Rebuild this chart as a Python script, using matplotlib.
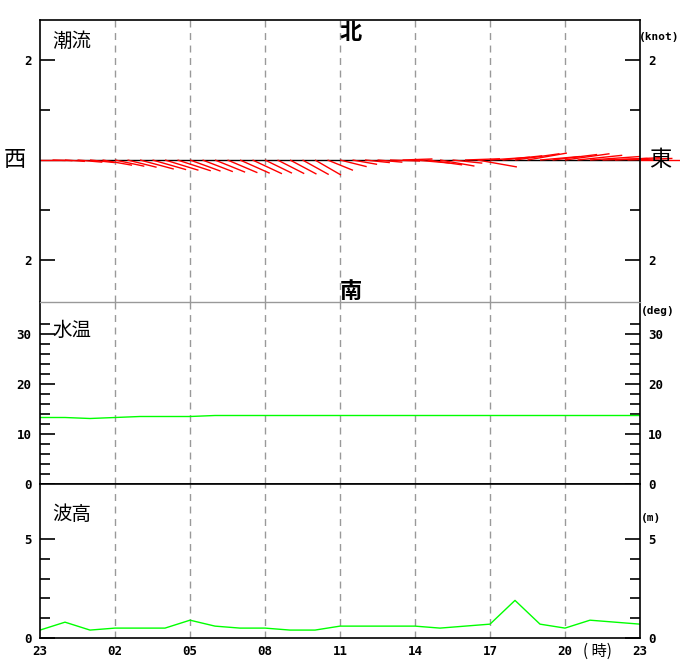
import numpy as np
import matplotlib
matplotlib.use('Agg')
import matplotlib.pyplot as plt
from matplotlib.collections import LineCollection

# 時刻ラベル (23時から翌23時まで)
hour_labels = ['23', '02', '05', '08', '11', '14', '17', '20', '23']

# 潮流 (30分毎): 速さ(knot) と 流向(度, 北=0 東=90)
cur_t = np.arange(0, 24.5, 0.5)
cur_speed = [0.5, 0.4, 0.4, 0.5, 0.5, 0.6, 0.6, 0.6, 0.7, 0.7, 0.7, 0.7, 0.65,
             0.65, 0.65, 0.65, 0.65, 0.65, 0.6, 0.6, 0.6, 0.6, 0.6, 0.55, 0.55,
             0.5, 0.5, 0.5, 0.6, 0.6, 0.7, 0.7, 0.7, 0.6, 0.7, 0.8, 0.8, 0.8,
             0.9, 0.8, 0.8, 0.9, 0.9, 0.9, 1.0, 0.9, 0.9, 0.9, 0.8]
cur_dir = [90, 92, 94, 95, 96, 100, 102, 104, 105, 106, 107, 108, 110, 111,
           112, 113, 114, 115, 116, 117, 118, 119, 120, 112, 104, 100, 96, 95,
           92, 88, 95, 98, 100, 96, 88, 100, 86, 84, 82, 80, 85, 83, 82, 84,
           86, 88, 87, 88, 90]

# 水温 (毎時, deg)
temp_t = np.arange(0, 25)
temp = [13.3, 13.3, 13.1, 13.3, 13.5, 13.5, 13.5, 13.7, 13.7, 13.7, 13.7,
        13.7, 13.7, 13.7, 13.7, 13.7, 13.7, 13.7, 13.7, 13.7, 13.7, 13.7,
        13.7, 13.7, 13.7]

# 波高 (毎時, m)
wave_t = np.arange(0, 25)
wave = [0.4, 0.8, 0.4, 0.5, 0.5, 0.5, 0.9, 0.6, 0.5, 0.5, 0.4, 0.4, 0.6,
        0.6, 0.6, 0.6, 0.5, 0.6, 0.7, 1.9, 0.7, 0.5, 0.9, 0.8, 0.7]

W, H = 680, 660
fig = plt.figure(figsize=(W / 100, H / 100), dpi=100)

def box(x0, y0, x1, y1):
    return [x0 / W, 1 - y1 / H, (x1 - x0) / W, (y1 - y0) / H]

jp = ['Noto Sans CJK JP', 'DejaVu Sans']
mono = dict(family='DejaVu Sans Mono', weight='bold', size=9)
unit = dict(family='DejaVu Sans Mono', weight='bold', size=8)
grid_col = '#999999'

ax1 = fig.add_axes(box(40, 20, 640, 302))
ax2 = fig.add_axes(box(40, 302, 640, 484))
ax3 = fig.add_axes(box(40, 484, 640, 638))

for ax in (ax1, ax2, ax3):
    ax.set_xlim(0, 24)
    for h in range(3, 24, 3):
        ax.axvline(h, color=grid_col, lw=1, ls=(0, (5, 4)), zorder=0)
    ax.tick_params(axis='y', which='major', direction='in', length=10.8,
                   width=1.2, left=True, right=True, labelleft=True,
                   labelright=True, pad=6)
    ax.tick_params(axis='y', which='minor', direction='in', length=7,
                   width=1.2, left=True, right=True)
    ax.tick_params(axis='x', length=0)
    for sp in ax.spines.values():
        sp.set_linewidth(1.2)

# ---- 潮流 ----
ax1.set_ylim(-2.84, 2.8)
ax1.set_xticks([])
ax1.set_yticks([-2, 2])
ax1.set_yticklabels(['2', '2'], **mono)
ax1.set_yticks([-1, 1], minor=True)
ax1.spines['bottom'].set_visible(False)
ax1.axhline(0, color='black', lw=1, zorder=1)

px_hour = 600 / 24
px_knot = 282 / 5.64
spd = np.array(cur_speed)
rad = np.radians(cur_dir)
u = spd * np.sin(rad)
v = spd * np.cos(rad)
segs = [[(t, 0), (t + uu * px_knot / px_hour, vv)] for t, uu, vv in zip(cur_t, u, v)]
lc = LineCollection(segs, colors='red', linewidths=1, zorder=2, clip_on=False)
ax1.add_collection(lc)

ax1.text(0.02, 0.96, '潮流', transform=ax1.transAxes, family=jp, fontsize=14,
         va='top', ha='left')
fig.text(351 / W, 1 - 21 / H, '北', family=jp, fontsize=16, ha='center',
         va='top', weight='bold', zorder=10)
fig.text(351 / W, 1 - 291 / H, '南', family=jp, fontsize=16, ha='center',
         va='center', weight='bold')
fig.text(15 / W, 1 - 160 / H, '西', family=jp, fontsize=16, ha='center',
         va='center')
fig.text(660 / W, 1 - 160 / H, '東', family=jp, fontsize=16, ha='center',
         va='center')
fig.text(679 / W, 1 - 37 / H, '(knot)', ha='right', va='center', **unit)

# ---- 水温 ----
ax2.set_ylim(0, 36.4)
ax2.set_xticks([])
ax2.set_yticks([0, 10, 20, 30])
ax2.set_yticklabels(['0', '10', '20', '30'], **mono)
ax2.set_yticks([v for v in range(2, 34, 2) if v % 10], minor=True)
ax2.spines['top'].set_color(grid_col)
ax2.spines['top'].set_linewidth(1)
ax2.plot(temp_t, temp, color='#00ff00', lw=1)
ax2.text(0.02, 0.9, '水温', transform=ax2.transAxes, family=jp, fontsize=14,
         va='top', ha='left')
fig.text(641 / W, 1 - 311 / H, '(deg)', ha='left', va='center', **unit)

# ---- 波高 ----
ax3.set_ylim(0, 7.78)
ax3.set_yticks([0, 5])
ax3.set_yticklabels(['0', '5'], **mono)
ax3.set_yticks([1, 2, 3, 4], minor=True)
ax3.plot(wave_t, wave, color='#00ff00', lw=1)
ax3.set_xticks(range(0, 25, 3))
ax3.set_xticklabels(hour_labels, **mono)
ax3.tick_params(axis='x', pad=5)
ax3.text(0.02, 0.87, '波高', transform=ax3.transAxes, family=jp, fontsize=14,
         va='top', ha='left')
fig.text(641 / W, 1 - 518 / H, '(m)', ha='left', va='center', **unit)
fig.text(597 / W, 1 - 651 / H, '( 時)', ha='center', va='center', family=jp,
         fontsize=11)

fig.savefig('out.png', dpi=100)
